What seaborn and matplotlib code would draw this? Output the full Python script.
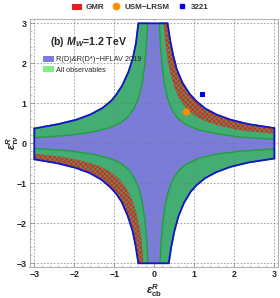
import numpy as np
import matplotlib
matplotlib.use("Agg")
import matplotlib.pyplot as plt
import seaborn as sns
from matplotlib.patches import Patch
from matplotlib.lines import Line2D

sns.set_theme(style="white")
plt.rcParams["font.family"] = ["Liberation Sans", "DejaVu Sans"]
plt.rcParams["mathtext.fontset"] = "custom"
plt.rcParams["mathtext.rm"] = "Liberation Sans:bold"
plt.rcParams["mathtext.it"] = "Liberation Sans:bold:italic"
plt.rcParams["mathtext.bf"] = "Liberation Sans:bold"
plt.rcParams["hatch.linewidth"] = 0.5

# boundary curves, one set per quadrant (top/bottom end -> side end)
q1_outer_x = [0.33, 0.40, 0.47, 0.56, 0.70, 0.87, 1.05, 1.27, 1.55, 1.90, 2.35, 3.00]
q1_outer_y = [3.00, 2.55, 2.20, 1.85, 1.52, 1.25, 1.05, 0.87, 0.72, 0.59, 0.48, 0.38]
q1_red_x = [0.23, 0.28, 0.33, 0.40, 0.50, 0.63, 0.80, 1.00, 1.30, 1.70, 2.25, 3.00]
q1_red_y = [3.00, 2.50, 2.10, 1.75, 1.40, 1.10, 0.87, 0.70, 0.54, 0.42, 0.31, 0.24]
q1_inner_x = [0.125, 0.15, 0.19, 0.25, 0.33, 0.45, 0.60, 0.80, 1.10, 1.50, 2.10, 3.00]
q1_inner_y = [3.00, 2.50, 2.00, 1.50, 1.12, 0.82, 0.61, 0.46, 0.34, 0.25, 0.16, 0.10]

q2_outer_x = [-0.40, -0.46, -0.54, -0.65, -0.80, -0.95, -1.07, -1.30, -1.60, -1.95, -2.40, -3.00]
q2_outer_y = [3.00, 2.50, 2.12, 1.78, 1.45, 1.22, 1.07, 0.88, 0.72, 0.59, 0.48, 0.37]
q2_inner_x = [-0.17, -0.20, -0.24, -0.30, -0.38, -0.50, -0.66, -0.85, -1.15, -1.55, -2.15, -3.00]
q2_inner_y = [3.00, 2.45, 1.95, 1.52, 1.18, 0.88, 0.66, 0.51, 0.38, 0.28, 0.20, 0.14]

q3_outer_x = [-0.40, -0.47, -0.55, -0.67, -0.82, -0.96, -1.10, -1.32, -1.62, -1.98, -2.42, -3.00]
q3_outer_y = [-3.00, -2.55, -2.17, -1.80, -1.46, -1.25, -1.10, -0.91, -0.74, -0.61, -0.50, -0.40]
q3_red_x = [-0.27, -0.32, -0.38, -0.46, -0.57, -0.71, -0.88, -1.10, -1.40, -1.80, -2.30, -3.00]
q3_red_y = [-3.00, -2.45, -2.05, -1.70, -1.38, -1.11, -0.89, -0.71, -0.56, -0.44, -0.34, -0.26]
q3_inner_x = [-0.16, -0.19, -0.23, -0.29, -0.37, -0.48, -0.63, -0.82, -1.10, -1.50, -2.10, -3.00]
q3_inner_y = [-3.00, -2.45, -1.97, -1.55, -1.18, -0.90, -0.67, -0.51, -0.38, -0.28, -0.19, -0.13]

q4_outer_x = [0.36, 0.42, 0.50, 0.60, 0.74, 0.90, 1.05, 1.27, 1.55, 1.90, 2.35, 3.00]
q4_outer_y = [-3.00, -2.60, -2.20, -1.83, -1.49, -1.22, -1.05, -0.87, -0.72, -0.59, -0.48, -0.38]
q4_inner_x = [0.14, 0.17, 0.21, 0.27, 0.35, 0.47, 0.63, 0.82, 1.10, 1.50, 2.10, 3.00]
q4_inner_y = [-3.00, -2.48, -2.00, -1.55, -1.20, -0.89, -0.66, -0.51, -0.38, -0.28, -0.20, -0.14]

models = ["USM\u2212LRSM", "3221"]
model_x = [0.80, 1.20]
model_y = [0.78, 1.22]

blue_fill = "#7b7bd8"
green_fill = "#44ad74"
blue_edge = "#1414c8"
green_edge = "#1fa03a"

fig = plt.figure(figsize=(2.8, 2.98), dpi=100)
ax = fig.add_axes([29.5 / 280, 1 - 267.3 / 298, 248.5 / 280, 248.8 / 298])


def band(ox, oy, ix, iy):
    return np.concatenate([ox, ix[::-1]]), np.concatenate([oy, iy[::-1]])


# whole HFLAV region (cross shape)
bx = np.concatenate([q1_outer_x, q4_outer_x[::-1], q3_outer_x, q2_outer_x[::-1]])
by = np.concatenate([q1_outer_y, q4_outer_y[::-1], q3_outer_y, q2_outer_y[::-1]])
ax.fill(bx, by, facecolor=blue_fill, edgecolor="none", zorder=1)

# all observables bands
for ox, oy, ix, iy in [(q1_outer_x, q1_outer_y, q1_inner_x, q1_inner_y),
                       (q2_outer_x, q2_outer_y, q2_inner_x, q2_inner_y),
                       (q3_outer_x, q3_outer_y, q3_inner_x, q3_inner_y),
                       (q4_outer_x, q4_outer_y, q4_inner_x, q4_inner_y)]:
    gx, gy = band(ox, oy, ix, iy)
    ax.fill(gx, gy, facecolor=green_fill, edgecolor=green_edge, lw=1.0, zorder=2)

# GMR stripes
for ox, oy, rx, ry in [(q1_outer_x, q1_outer_y, q1_red_x, q1_red_y),
                       (q3_outer_x, q3_outer_y, q3_red_x, q3_red_y)]:
    hx, hy = band(ox, oy, rx, ry)
    ax.fill(hx, hy, facecolor="#d52a1c", edgecolor="#4a9f6a", hatch="xxxxxxx", lw=0, zorder=3)

ax.fill(bx, by, facecolor="none", edgecolor=blue_edge, lw=1.3, zorder=4)

sns.scatterplot(x=model_x[:1], y=model_y[:1], marker="o", s=28, color="#ff8c00",
                edgecolor="none", ax=ax, zorder=6)
sns.scatterplot(x=model_x[1:], y=model_y[1:], marker="s", s=16, color="#0000ff",
                edgecolor="none", ax=ax, zorder=6)

ax.set_xlim(-3.12, 3.09)
ax.set_ylim(-3.1, 3.12)
ticks = [-3, -2, -1, 0, 1, 2, 3]
ax.set_xticks(ticks)
ax.set_yticks(ticks)
ax.set_xticklabels([f"{t}".replace("-", "\u2212") for t in ticks])
ax.set_yticklabels([f"{t}".replace("-", "\u2212") for t in ticks])
ax.set_xticks(np.arange(-3, 3.01, 0.2), minor=True)
ax.set_yticks(np.arange(-3, 3.01, 0.2), minor=True)
ax.tick_params(which="major", direction="in", length=3, width=0.6, color="#999999",
               labelsize=6.4, pad=2, bottom=True, left=True)
ax.tick_params(which="minor", direction="in", length=1.5, width=0.5, color="#aaaaaa",
               bottom=True, left=True)
for lab in ax.get_xticklabels() + ax.get_yticklabels():
    lab.set_fontweight("bold")
ax.grid(True, which="major", color="#7a7a7a", ls=(0, (2, 2)), lw=0.6, alpha=0.8, zorder=5)
ax.set_axisbelow(False)
for sp in ax.spines.values():
    sp.set_color("#b4b4b4")
    sp.set_linewidth(0.8)

ax.set_xlabel(r"$\varepsilon^{R}_{\mathrm{cb}}$", fontsize=8)
ax.set_ylabel(r"$\varepsilon^{R}_{\tau\nu}$", fontsize=8)
ax.xaxis.set_label_coords(0.5, -0.06)
ax.yaxis.set_label_coords(-0.035, 0.5)

ax.text(-2.61, 2.53, r"(b) $M_W$=1.2 TeV", fontsize=7.6, fontweight="bold",
        ha="left", va="center", zorder=7)

inner = ax.legend(handles=[Patch(facecolor="#7b7be0", edgecolor="none", label="R(D)&R(D*)\u2212HFLAV 2019"),
                           Patch(facecolor="#80f080", edgecolor="none", label="All observables")],
                  loc="upper left", bbox_to_anchor=(0.054, 0.85), borderaxespad=0, borderpad=0,
                  frameon=False, fontsize=5.3, handlelength=1.5, handleheight=0.9,
                  handletextpad=0.3, labelspacing=0.35)
inner.set_zorder(8)

top = [Patch(facecolor="#ee1c1c", edgecolor="none", label="GMR"),
       Line2D([], [], marker="o", ls="none", color="#ff8c00", markersize=4.5, label=models[0]),
       Line2D([], [], marker="s", ls="none", color="#0000ff", markersize=3.2, label=models[1])]
leg = fig.legend(handles=top, loc="center", bbox_to_anchor=(0.5, 0.975), ncol=3, frameon=False,
                 fontsize=5.8, handlelength=1.3, handleheight=0.8, handletextpad=0.4,
                 columnspacing=0.9, borderpad=0)
for t in leg.get_texts():
    t.set_fontweight("bold")
    t.set_color("#333333")

fig.savefig("out.png", dpi=100)
